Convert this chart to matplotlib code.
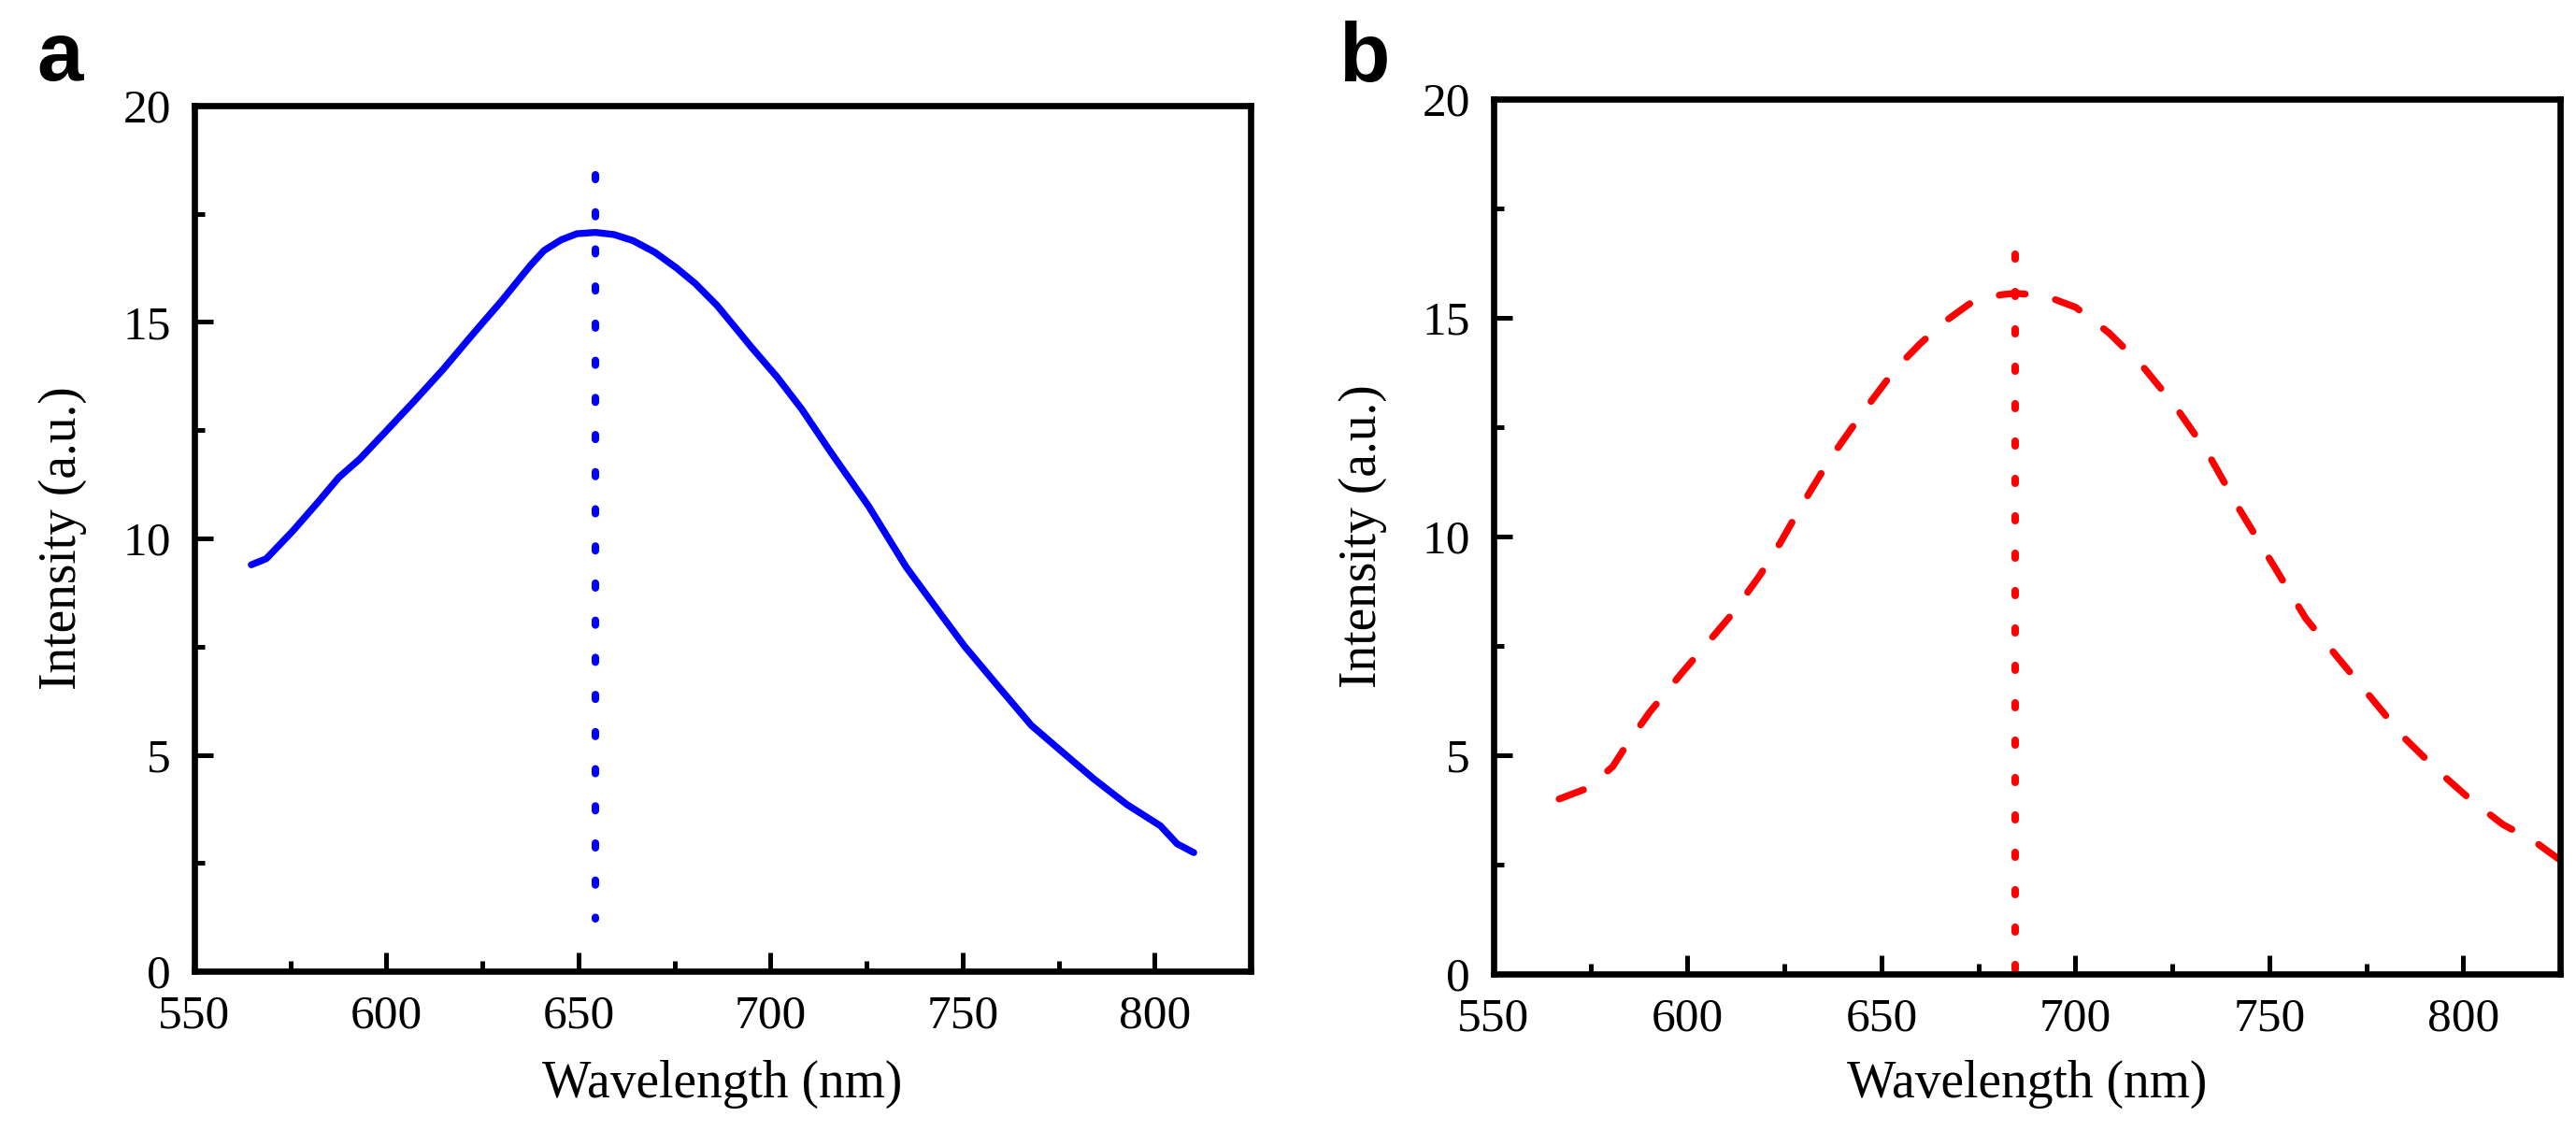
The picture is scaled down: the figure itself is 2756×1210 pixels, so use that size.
import matplotlib
matplotlib.use("Agg")
import matplotlib.pyplot as plt
from matplotlib.ticker import MultipleLocator

plt.rcParams['font.family'] = ['Liberation Serif', 'DejaVu Serif']
plt.rcParams['lines.scale_dashes'] = False

# ---- data ----
wavelength_a = [564.8, 568.7, 575.6, 582.1, 587.6, 593.0, 599.5, 607.1, 614.7, 622.3,
                629.9, 637.5, 641.0, 645.5, 649.6, 654.4, 659.3, 664.2, 669.9, 675.5,
                680.4, 686.1, 690.1, 695.0, 701.6, 708.1, 715.7, 725.5, 735.3, 742.9,
                750.5, 759.2, 767.9, 775.5, 784.2, 792.8, 801.5, 805.9, 810.2]
intensity_a = [9.39, 9.53, 10.17, 10.83, 11.41, 11.83, 12.44, 13.16, 13.90, 14.70,
               15.48, 16.31, 16.65, 16.90, 17.04, 17.07, 17.02, 16.88, 16.61, 16.25,
               15.89, 15.38, 14.95, 14.42, 13.74, 12.99, 11.99, 10.75, 9.34, 8.42,
               7.51, 6.59, 5.68, 5.10, 4.44, 3.85, 3.36, 2.94, 2.74]

wavelength_b = [566.9, 574.3, 580.7, 584.9, 590.2, 598.6, 605.0, 611.3, 618.7, 624.0,
                629.3, 636.7, 645.2, 653.6, 660.0, 666.3, 672.7, 678.0, 681.1, 684.5,
                687.5, 693.8, 700.1, 708.6, 717.1, 725.5, 734.0, 742.4, 750.9, 759.4,
                767.8, 776.3, 784.8, 793.3, 801.7, 810.2, 818.7, 824.6]
intensity_b = [4.00, 4.25, 4.74, 5.32, 5.98, 6.89, 7.55, 8.21, 9.12, 9.87,
               10.69, 11.77, 12.84, 13.83, 14.41, 14.91, 15.32, 15.48, 15.53, 15.56,
               15.54, 15.45, 15.24, 14.66, 13.92, 13.01, 11.93, 10.61, 9.37, 8.13,
               7.22, 6.31, 5.40, 4.66, 4.00, 3.42, 3.01, 2.63]

peak_a = 654.4
peak_a_span = [18.4, 1.2]
peak_b = 684.5
peak_b_span = [16.45, 0.0]

panel_labels = ['a', 'b']
x_label = 'Wavelength (nm)'
y_label = 'Intensity (a.u.)'
x_limits = [550, 825]
y_limits = [0, 20]

# ---- figure ----
W, H, DPI = 2756, 1210, 100
fig = plt.figure(figsize=(W / DPI, H / DPI), dpi=DPI)

def px_axes(x0, x1, ytop, ybot):
    return fig.add_axes([x0 / W, 1 - ybot / H, (x1 - x0) / W, (ybot - ytop) / H])

ax_a = px_axes(208, 1338, 113, 1039)
ax_b = px_axes(1598, 2739, 106, 1042)

lw = 5.3
dot_style = (0, (3.6, 25.0))
dash_style = (0, (20.0, 23.8))

ax_a.plot(wavelength_a, intensity_a, color='#0000FF', lw=lw,
          solid_capstyle='round', solid_joinstyle='round')
ax_a.plot([peak_a, peak_a], peak_a_span, color='#0000FF', lw=5.8,
          linestyle=dot_style, dash_capstyle='round')

ax_b.plot(wavelength_b, intensity_b, color='#FF0000', lw=lw,
          linestyle=dash_style, dash_capstyle='round', dash_joinstyle='round')
ax_b.plot([peak_b, peak_b], peak_b_span, color='#FF0000', lw=5.8,
          linestyle=(0, (3.6, 25.2)), dash_capstyle='round')

for ax, lab, lab_xy, yl_x, xl_y in [
        (ax_a, panel_labels[0], (39, 86), -0.1018, -0.1026),
        (ax_b, panel_labels[1], (1432, 87), -0.0999, -0.0983)]:
    ax.set_xlim(*x_limits)
    ax.set_ylim(*y_limits)
    ax.xaxis.set_major_locator(MultipleLocator(50))
    ax.xaxis.set_minor_locator(MultipleLocator(25))
    ax.yaxis.set_major_locator(MultipleLocator(5))
    ax.yaxis.set_minor_locator(MultipleLocator(2.5))
    for s in ax.spines.values():
        s.set_linewidth(4.8)
        s.set_capstyle('projecting')
    ax.tick_params(which='both', direction='in', top=False, right=False,
                   labelsize=37, pad=18, width=3.6, color='black')
    ax.tick_params(which='major', length=14.4)
    ax.tick_params(which='minor', length=8)
    ax.set_xlabel(x_label, fontsize=40)
    ax.set_ylabel(y_label, fontsize=40)
    ax.yaxis.set_label_coords(yl_x, 0.5)
    ax.xaxis.set_label_coords(0.5, xl_y)
    fig.text(lab_xy[0] / W, 1 - lab_xy[1] / H, lab, fontsize=64, fontweight='bold',
             family=['Liberation Sans', 'DejaVu Sans'], ha='left', va='baseline')

fig.savefig('out.png', dpi=DPI)
